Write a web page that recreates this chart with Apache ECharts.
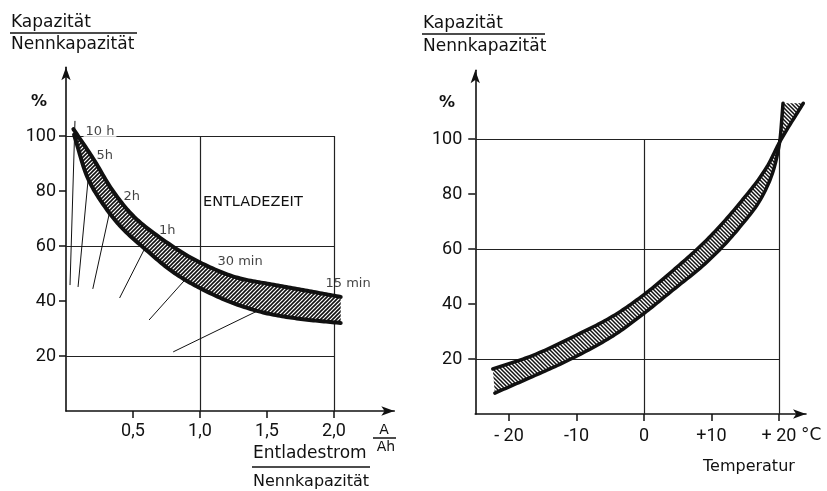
<!DOCTYPE html>
<html><head><meta charset="utf-8">
<script src="https://cdn.jsdelivr.net/npm/echarts@6/dist/echarts.min.js"></script>
<style>html,body{margin:0;padding:0;background:#fff}#c{width:827px;height:491px}</style>
</head><body><div id="c"></div>
<script>
// ---------- data ----------
const yTicks = [20, 40, 60, 80, 100];
const yTickLabels = ['20', '40', '60', '80', '100'];
const leftXTicks = [0.5, 1.0, 1.5, 2.0];
const leftXTickLabels = ['0,5', '1,0', '1,5', '2,0'];
const rightXTicks = [-20, -10, 0, 10, 20];
const rightXTickLabels = ['- 20', '-10', '0', '+10', '+ 20'];

// left: capacity band vs discharge current (A/Ah)
const leftUpperX = [0.055, 0.2, 0.35, 0.5, 0.66, 1.0, 1.3, 1.55, 1.8, 2.05];
const leftUpperY = [102.5, 92, 80, 71, 64.5, 54, 48.2, 45.9, 43.7, 41.5];
const leftLowerX = [0.06, 0.16, 0.28, 0.4, 0.6, 0.8, 1.0, 1.3, 1.55, 1.8, 2.05];
const leftLowerY = [100.5, 85, 75, 67.5, 58.5, 50.5, 44.7, 38.3, 35, 33.2, 32];

// left: discharge-time labels and their leader lines
const timeLabels = ['10 h', '5h', '2h', '1h', '30 min', '15 min'];
const timeLabelX = [0.127, 0.224, 0.425, 0.69, 1.127, 1.933];
const timeLabelY = [101.5, 92.9, 77.8, 65.5, 54.2, 46.5];
const leaderFromX = [0.03, 0.09, 0.2, 0.4, 0.62, 0.8];
const leaderFromY = [45.8, 45.1, 44.4, 41.1, 33.1, 21.5];
const leaderToX = [0.067, 0.18, 0.35, 0.65, 1.0, 1.75];
const leaderToY = [105.5, 92, 77.8, 65.1, 53.8, 44];

// left grid lines
const leftHLines = [20, 60, 100];
const leftVLines = [1.0, 2.0];
const leftGridEndX = 2.0;

// right: capacity band vs temperature (°C)
const rightUpperX = [-22.4, -16.9, -9.5, -4.6, 0.1, 4.3, 9.3, 14.2, 18.2, 20.1, 23.6];
const rightUpperY = [16.4, 20.9, 29.3, 35.6, 43.6, 52.2, 63.3, 76.7, 89.8, 98.9, 113];
const rightLowerX = [-22.1, -16.9, -11.0, -4.6, 0.1, 4.3, 9.3, 14.2, 18.2, 20.1, 20.6];
const rightLowerY = [7.6, 13.2, 19.8, 28.4, 36.8, 45.1, 55.2, 68, 82.5, 98.9, 113];

// right grid lines
const rightHLines = [20, 60, 100];
const rightVLines = [0, 20];
const rightGridStartX = -25;
const rightGridEndX = 20;

// ---------- helpers ----------
const zip = (xs, ys) => xs.map((x, i) => [x, ys[i]]);
const INK = '#111';

function hatch(dir, s, lw) {
  const c = document.createElement('canvas');
  c.width = s; c.height = s;
  const g = c.getContext('2d');
  g.fillStyle = '#fff'; g.fillRect(0, 0, s, s);
  g.strokeStyle = '#111'; g.lineWidth = lw; g.beginPath();
  if (dir === '/') {
    g.moveTo(0, s); g.lineTo(s, 0);
    g.moveTo(-1, 1); g.lineTo(1, -1);
    g.moveTo(s - 1, s + 1); g.lineTo(s + 1, s - 1);
  } else {
    g.moveTo(0, 0); g.lineTo(s, s);
    g.moveTo(-1, s - 1); g.lineTo(1, s + 1);
    g.moveTo(s - 1, -1); g.lineTo(s + 1, 1);
  }
  g.stroke();
  return c;
}

// monotone cubic smoothing of pixel points along x (render-time only)
function smoothPx(pts, n) {
  const N = pts.length, xs = pts.map(p => p[0]), ys = pts.map(p => p[1]);
  const d = [], m = [];
  for (let i = 0; i < N - 1; i++) d[i] = (ys[i + 1] - ys[i]) / (xs[i + 1] - xs[i]);
  m[0] = d[0]; m[N - 1] = d[N - 2];
  for (let i = 1; i < N - 1; i++) {
    if (d[i - 1] * d[i] <= 0) m[i] = 0;
    else {
      const w1 = 2 * (xs[i + 1] - xs[i]) + (xs[i] - xs[i - 1]);
      const w2 = (xs[i + 1] - xs[i]) + 2 * (xs[i] - xs[i - 1]);
      m[i] = (w1 + w2) / (w1 / d[i - 1] + w2 / d[i]);
    }
  }
  const out = [];
  for (let i = 0; i < N - 1; i++) {
    const h = xs[i + 1] - xs[i];
    for (let k = 0; k < n; k++) {
      const t = k / n, t2 = t * t, t3 = t2 * t;
      const y = (2 * t3 - 3 * t2 + 1) * ys[i] + (t3 - 2 * t2 + t) * h * m[i] + (-2 * t3 + 3 * t2) * ys[i + 1] + (t3 - t2) * h * m[i + 1];
      out.push([xs[i] + t * h, y]);
    }
  }
  out.push(pts[N - 1]);
  return out;
}

function bandSeries(idx, upper, lower, pattern, lwU, lwL) {
  return {
    type: 'custom', xAxisIndex: idx, yAxisIndex: idx, silent: true, clip: false, z: 5,
    data: [upper[0]],
    encode: { x: 0, y: 1 },
    renderItem(params, api) {
      const up = smoothPx(upper.map(p => api.coord(p)), 16);
      const lo = smoothPx(lower.map(p => api.coord(p)), 16);
      const poly = up.concat(lo.slice().reverse());
      return {
        type: 'group', children: [
          { type: 'polygon', shape: { points: poly }, style: { fill: { image: pattern, repeat: 'repeat' }, stroke: null } },
          { type: 'polyline', shape: { points: up }, style: { fill: null, stroke: INK, lineWidth: lwU, lineJoin: 'round', lineCap: 'round' } },
          { type: 'polyline', shape: { points: lo }, style: { fill: null, stroke: INK, lineWidth: lwL, lineJoin: 'round', lineCap: 'round' } }
        ]
      };
    }
  };
}

function gridLines(idx, hl, vl, x0, x1) {
  const data = hl.map(v => ({ coords: [[x0, v], [x1, v]] }))
    .concat(vl.map(v => ({ coords: [[v, 0], [v, 100]] })));
  return {
    type: 'lines', coordinateSystem: 'cartesian2d', xAxisIndex: idx, yAxisIndex: idx,
    silent: true, z: 1, symbol: 'none',
    lineStyle: { color: '#222', width: 1.2, opacity: 1, curveness: 0 },
    data
  };
}

function valueAxis(idx, min, max, ticks, labels, margin, fontSize) {
  return {
    type: 'value', gridIndex: idx, min, max,
    axisLine: { show: true, onZero: false, symbol: ['none', 'arrow'], symbolSize: [7, 13], lineStyle: { color: INK, width: 1.6 } },
    axisTick: { show: true, customValues: ticks, length: 7, lineStyle: { color: INK, width: 1.5 } },
    axisLabel: {
      show: true, customValues: ticks, margin, color: INK, fontFamily: 'Roboto', fontSize,
      formatter: v => { const i = ticks.indexOf(v); return i < 0 ? '' : labels[i]; }
    },
    splitLine: { show: false }
  };
}

const T = (text, x, y, size, extra) => ({
  type: 'text', x, y, silent: true,
  style: Object.assign({ text, fill: INK, font: size + 'px "DejaVu Sans"', verticalAlign: 'middle', align: 'left' }, extra || {})
});
const L = (x1, y1, x2, y2) => ({ type: 'line', silent: true, shape: { x1, y1, x2, y2 }, style: { stroke: INK, lineWidth: 1.5 } });

const chart = echarts.init(document.getElementById('c'), null, { renderer: 'canvas' });
chart.setOption({
  animation: false,
  backgroundColor: '#fff',
  grid: [
    { left: 66, top: 67.25, width: 2.45 * 134, height: 343.75, containLabel: false },
    { left: 475.25, top: 70.25, width: 49 * 6.75, height: 343.75, containLabel: false }
  ],
  xAxis: [
    valueAxis(0, 0, 2.45, leftXTicks, leftXTickLabels, 11, 18),
    valueAxis(1, -25, 24, rightXTicks, rightXTickLabels, 13, 18)
  ],
  yAxis: [
    valueAxis(0, 0, 125, yTicks, yTickLabels, 10, 18),
    valueAxis(1, 0, 125, yTicks, yTickLabels, 13, 18)
  ],
  series: [
    gridLines(0, leftHLines, leftVLines, 0, leftGridEndX),
    {
      type: 'lines', coordinateSystem: 'cartesian2d', xAxisIndex: 0, yAxisIndex: 0, silent: true, z: 2,
      lineStyle: { color: INK, width: 1, opacity: 1, curveness: 0 },
      data: leaderFromX.map((x, i) => ({ coords: [[x, leaderFromY[i]], [leaderToX[i], leaderToY[i]]] }))
    },
    bandSeries(0, zip(leftUpperX, leftUpperY), zip(leftLowerX, leftLowerY), hatch('/', 4, 1.6), 4, 4),
    {
      type: 'scatter', xAxisIndex: 0, yAxisIndex: 0, silent: true, z: 8, symbolSize: 1,
      itemStyle: { color: 'rgba(0,0,0,0)' },
      data: timeLabels.map((t, i) => ({
        value: [timeLabelX[i], timeLabelY[i]], name: t,
        label: i === 0 ? { backgroundColor: '#fff', padding: [0, 2] } : {}
      })),
      label: {
        show: true, position: 'right', distance: 0, formatter: p => p.name,
        color: INK, fontFamily: 'DejaVu Sans', fontSize: 13
      }
    },
    gridLines(1, rightHLines, rightVLines, rightGridStartX, rightGridEndX),
    bandSeries(1, zip(rightUpperX, rightUpperY), zip(rightLowerX, rightLowerY), hatch('\\', 4, 1.5), 3.5, 3.5)
  ],
  graphic: [
    // left titles
    T('Kapazität', 11, 22.5, 17),
    L(10, 33, 137, 33),
    T('Nennkapazität', 11, 44.5, 17),
    T('%', 31, 102, 16, { font: 'bold 16px "DejaVu Sans"' }),
    T('ENTLADEZEIT', 203, 202, 14.5),
    T('Entladestrom', 253, 453.5, 17),
    L(252, 467, 370, 467),
    T('Nennkapazität', 253, 481.5, 16),
    T('A', 384, 430, 14, { align: 'center' }),
    L(373, 438, 396, 438),
    T('Ah', 386, 447, 14, { align: 'center' }),
    // right titles
    T('Kapazität', 423, 23.5, 17),
    L(422, 34, 545, 34),
    T('Nennkapazität', 423, 47, 17),
    T('%', 439, 103, 16, { font: 'bold 16px "DejaVu Sans"' }),
    T('°C', 801, 436, 17),
    T('Temperatur', 703, 467, 16)
  ]
});
</script></body></html>
